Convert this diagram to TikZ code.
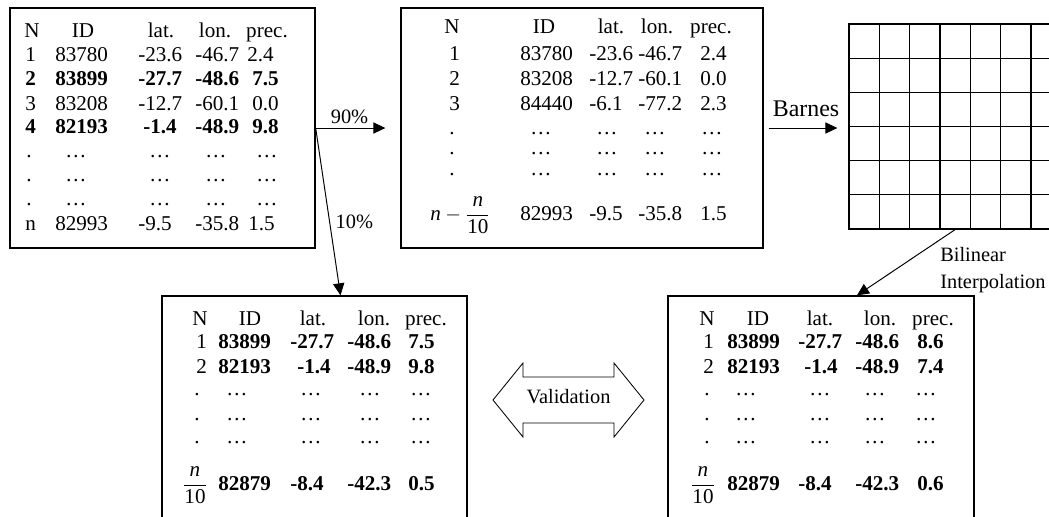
\documentclass[tikz,border=0pt]{standalone}
\usepackage{amsmath}
\usepackage{fontspec}
\setmainfont{Liberation Serif}
\usetikzlibrary{arrows.meta}

\newcommand\tabfont{\fontsize{15}{17}\selectfont}

\tikzset{
  tbox/.style={draw, line width=0.9pt, inner sep=0pt},
  cell/.style={anchor=base west, inner sep=0pt, font=\tabfont},
  bcell/.style={cell, font=\tabfont\bfseries},
  head/.style={anchor=base, inner sep=0pt, font=\tabfont},
  flow/.style={-{Triangle[length=3mm,width=2.8mm]}, line width=0.7pt},
  lbl/.style={inner sep=0pt, font=\fontsize{14.5}{19.5}\selectfont}
}

\begin{document}
\begin{tikzpicture}[x=0.025cm, y=-0.025cm]
  \useasboundingbox (0,0) rectangle (1049,516);
  \clip (0,0) rectangle (1049,516);

  % boxes
  \node[tbox, minimum width=7.625cm, minimum height=6cm] (obs) at (162.5,128) {};
  \node[tbox, minimum width=9.05cm, minimum height=6cm] (train) at (582,128) {};
  \node[tbox, minimum width=5.3cm, minimum height=5.125cm] (grid) at (955,126.5) {};
  \node[tbox, minimum width=7.625cm, minimum height=7.6cm] (test) at (314.5,448) {};
  \node[tbox, minimum width=7.65cm, minimum height=7.6cm] (est) at (821,448) {};

  % grid cells
  \foreach \i in {1,...,6}
    \draw[line width=0.9pt] (849+30.33*\i,24) -- (849+30.33*\i,229);
  \foreach \j in {1,...,5}
    \draw[line width=0.9pt] (849,24+34.17*\j) -- (1049,24+34.17*\j);

  % all stations
  \foreach \x/\t in {32/N, 83/ID, 161/lat., 215/lon., 267/prec.} \node[head] (obs0-\x) at (\x,37) {\t};
  \foreach \x/\t in {25/1, 55/83780, 138/-23.6, 195/-46.7, 247/2.4} \node[cell] (obs1-\x) at (\x,61) {\t};
  \foreach \x/\t in {25/2, 55/83899, 138/-27.7, 195/-48.6, 252/7.5} \node[bcell] (obs2-\x) at (\x,85) {\t};
  \foreach \x/\t in {25/3, 55/83208, 138/-12.7, 195/-60.1, 252/0.0} \node[cell] (obs3-\x) at (\x,110) {\t};
  \foreach \x/\t in {25/4, 55/82193, 143/-1.4, 195/-48.9, 252/9.8} \node[bcell] (obs4-\x) at (\x,133) {\t};
  \foreach \y in {157,181,205} {
    \node[cell] (obsd-\y) at (26,\y) {.};
    \foreach \x in {76,160,216,267} \node[head] (obsd-\y-\x) at (\x,\y) {\ldots};
  }
  \foreach \x/\t in {25/n, 55/82993, 138/-9.5, 195/-35.8, 248/1.5} \node[cell] (obsn-\x) at (\x,230) {\t};

  % training stations
  \foreach \x/\t in {452/N, 544/ID, 611/lat., 657/lon., 711/prec.} \node[head] (train0-\x) at (\x,33) {\t};
  \foreach \x/\t in {449/1, 520/83780, 589/-23.6, 638/-46.7, 700/2.4} \node[cell] (train1-\x) at (\x,60) {\t};
  \foreach \x/\t in {449/2, 520/83208, 589/-12.7, 638/-60.1, 700/0.0} \node[cell] (train2-\x) at (\x,85) {\t};
  \foreach \x/\t in {449/3, 520/84440, 589/-6.1, 638/-77.2, 700/2.3} \node[cell] (train3-\x) at (\x,110) {\t};
  \foreach \y in {134,154,175} {
    \node[head] (traind-\y) at (452,\y) {.};
    \foreach \x in {541,607,655,712} \node[head] (traind-\y-\x) at (\x,\y) {\ldots};
  }
  \node[cell] (trainn) at (430,220) {$\mbox{\itshape n}-\dfrac{\mbox{\itshape n}}{\mbox{10}}$};
  \foreach \x/\t in {520/82993, 589/-9.5, 638/-35.8, 700/1.5} \node[cell] (trainn-\x) at (\x,220) {\t};

  % validation stations
  \foreach \x/\t in {200/N, 250/ID, 313/lat., 374/lon., 426/prec.} \node[head] (test0-\x) at (\x,325) {\t};
  \node[cell] (test1) at (196,348) {1};
  \foreach \x/\t in {218/83899, 290/-27.7, 347/-48.6, 408/7.5} \node[bcell] (test1-\x) at (\x,348) {\t};
  \node[cell] (test2) at (196,373) {2};
  \foreach \x/\t in {218/82193, 297/-1.4, 347/-48.9, 408/9.8} \node[bcell] (test2-\x) at (\x,373) {\t};
  \foreach \y in {395,420,443} {
    \node[head] (testd-\y) at (197,\y) {.};
    \foreach \x in {237,311,370,421} \node[head] (testd-\y-\x) at (\x,\y) {\ldots};
  }
  \node[head] (testn) at (195,490) {$\dfrac{\mbox{\itshape n}}{\mbox{10}}$};
  \foreach \x/\t in {218/82879, 290/-8.4, 347/-42.3, 408/0.5} \node[bcell] (testn-\x) at (\x,490) {\t};

  % interpolated values
  \foreach \x/\t in {707/N, 758/ID, 820/lat., 880/lon., 933/prec.} \node[head] (est0-\x) at (\x,325) {\t};
  \node[cell] (est1) at (703,348) {1};
  \foreach \x/\t in {727/83899, 798/-27.7, 855/-48.6, 917/8.6} \node[bcell] (est1-\x) at (\x,348) {\t};
  \node[cell] (est2) at (703,373) {2};
  \foreach \x/\t in {727/82193, 804/-1.4, 855/-48.9, 917/7.4} \node[bcell] (est2-\x) at (\x,373) {\t};
  \foreach \y in {395,420,443} {
    \node[head] (estd-\y) at (707,\y) {.};
    \foreach \x in {746,820,875,926} \node[head] (estd-\y-\x) at (\x,\y) {\ldots};
  }
  \node[head] (estn) at (703,490) {$\dfrac{\mbox{\itshape n}}{\mbox{10}}$};
  \foreach \x/\t in {727/82879, 798/-8.4, 855/-42.3, 917/0.6} \node[bcell] (estn-\x) at (\x,490) {\t};

  % arrows
  \draw[flow, shorten >=0.375cm] (obs.east) -- (train.west)
    node[lbl, pos=0.4, above=3pt] {90\%};
  \draw[flow] (obs.east) -- ([xshift=0.65cm]test.north)
    node[lbl, pos=0.56, right=4pt] {10\%};
  \draw[flow, shorten <=0.125cm, shorten >=0.275cm] (train.east) -- (train.east -| grid.west)
    node[lbl, midway, above=8pt, font=\fontsize{17}{20}\selectfont] {Barnes};
  \draw[flow] (grid.south) -- ([xshift=0.9cm]est.north);
  \node[lbl, anchor=north west, align=left] (bil) at (940,247) {Bilinear\\Interpolation};

  % validation
  \node[lbl] (valid) at (568.5,397) {Validation};
  \draw[line width=0.6pt, shift={(valid)}] (-75.5,3) -- (-45.5,-34) -- (-45.5,-20) -- (45.5,-20)
    -- (45.5,-34) -- (75.5,3) -- (45.5,40) -- (45.5,26) -- (-45.5,26) -- (-45.5,40) -- cycle;
\end{tikzpicture}
\end{document}
